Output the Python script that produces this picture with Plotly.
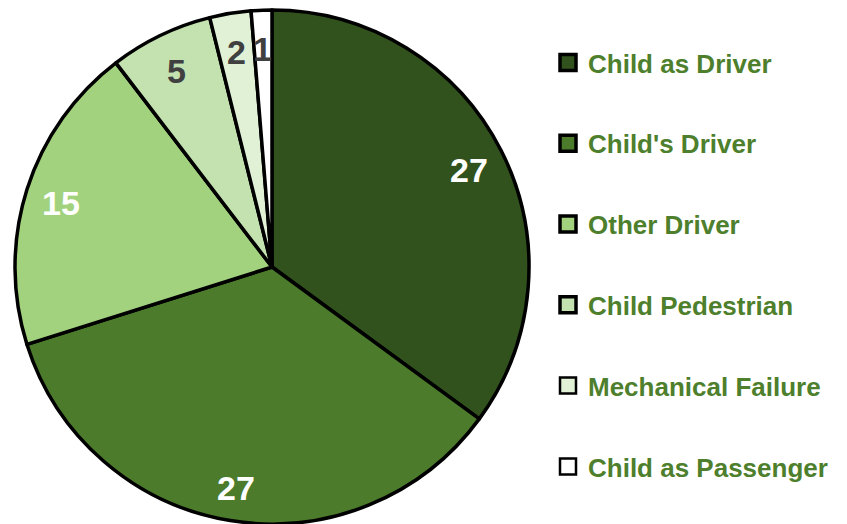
import math
import plotly.graph_objects as go

categories = ["Child as Driver", "Child's Driver", "Other Driver", "Child Pedestrian",
              "Mechanical Failure", "Child as Passenger"]
values = [27, 27, 15, 5, 2, 1]
colors = ["#32521D", "#4B7B2B", "#A2D27E", "#C3E2B0", "#E0F1D6", "#FFFFFF"]
label_colors = ["#FFFFFF", "#FFFFFF", "#FFFFFF", "#404040", "#404040", "#404040"]
legend_line_widths = [3.5, 3.5, 3.5, 3.5, 2.5, 2.5]

W, H = 847, 524
OFF = 8  # page body margin
cx, cy, R = 272 - OFF, 267 - OFF, 257
dom_x = [(cx - R) / W, (cx + R) / W]
dom_y = [1 - (cy + R) / H, 1 - (cy - R) / H]

fig = go.Figure()
fig.add_trace(go.Pie(
    labels=categories, values=values, sort=False, direction="clockwise", rotation=0,
    marker=dict(colors=colors, line=dict(color="#000000", width=3.5)),
    textinfo="none", hoverinfo="label+value", showlegend=False,
    domain=dict(x=dom_x, y=dom_y),
))

# legend via dummy traces
for i, (c, col, lw) in enumerate(zip(categories, colors, legend_line_widths)):
    fig.add_trace(go.Scatter(
        x=[None], y=[None], mode="markers", name=c, legendgroup=f"g{i}",
        marker=dict(symbol="square", size=16, color=col, line=dict(color="#000000", width=lw)),
    ))

# data labels at slice mid angles
total = sum(values)
cum = 0
annotations = []
for v, lc in zip(values, label_colors):
    mid = (cum + v / 2) / total * 2 * math.pi
    cum += v
    px = cx + 0.86 * R * math.sin(mid)
    py = cy - 0.86 * R * math.cos(mid)
    annotations.append(dict(
        x=px / W, y=1 - py / H, xref="paper", yref="paper", text=f"<b>{v}</b>",
        showarrow=False, font=dict(size=34, color=lc, family="Liberation Sans, Arial, sans-serif"),
        xanchor="center", yanchor="middle", yshift=-3,
    ))

fig.update_layout(
    width=W, height=H,
    margin=dict(l=0, r=0, t=0, b=0),
    paper_bgcolor="white", plot_bgcolor="white",
    xaxis=dict(visible=False), yaxis=dict(visible=False),
    annotations=annotations,
    legend=dict(
        x=540 / W, y=1 - 31 / H, xanchor="left", yanchor="top",
        font=dict(size=26, color="#4E7F2C", family="Liberation Sans, Arial, sans-serif", weight="bold"),
        tracegroupgap=44, itemwidth=30, bgcolor="rgba(0,0,0,0)",
    ),
    showlegend=True,
)

fig.write_html("out.html")
